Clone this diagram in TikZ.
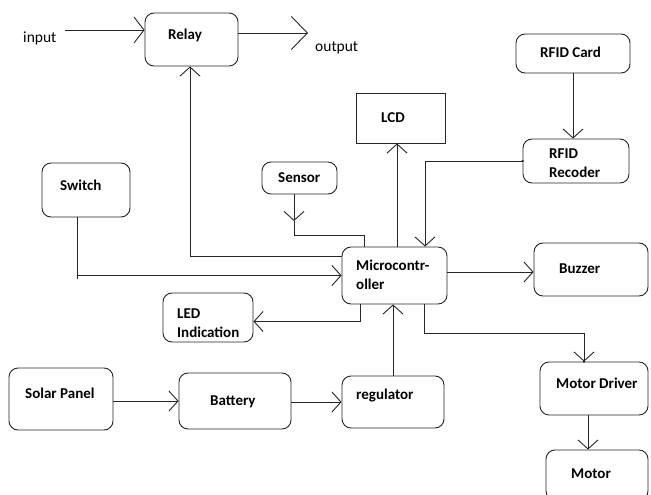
\documentclass[tikz,border=0pt]{standalone}
\usepackage{fontspec}
\setmainfont{Carlito}
\usetikzlibrary{arrows.meta}
\tikzset{
  rbox/.style={draw=black!85, line width=0.9pt, rounded corners=9pt, inner sep=0pt},
  sbox/.style={draw=black!85, line width=0.9pt, inner sep=0pt},
  lbl/.style={anchor=base west, inner sep=0pt, font=\fontsize{15}{19}\selectfont\bfseries, align=left},
  plain/.style={anchor=base west, inner sep=0pt, font=\fontsize{15.5}{19}\selectfont},
  conn/.style={draw=black!85, line width=0.9pt},
  arr/.style={conn, -{Straight Barb[length=9pt,width=20pt,line width=0.9pt]}},
  bigarr/.style={conn, -{Straight Barb[length=16pt,width=33pt,line width=0.9pt]}},
}
\begin{document}
\begin{tikzpicture}[x=1pt,y=-1pt]
\useasboundingbox (0,0) rectangle (651,495);
\clip (0,0) rectangle (651,495);
% boxes
\node[rbox, minimum width=93pt, minimum height=53pt] (relay) at (191.5,39.5) {};
\node[sbox, minimum width=89pt, minimum height=50pt] (lcd) at (400.5,118) {};
\node[rbox, minimum width=114pt, minimum height=39pt] (rfidcard) at (573,53.5) {};
\node[rbox, minimum width=106pt, minimum height=44pt] (rfidrec) at (576,161) {};
\node[rbox, minimum width=88pt, minimum height=54pt] (switch) at (86,190) {};
\node[rbox, minimum width=75pt, minimum height=32pt] (sensor) at (299.5,178) {};
\node[rbox, minimum width=105pt, minimum height=57pt] (micro) at (394.5,275.5) {};
\node[rbox, minimum width=114pt, minimum height=53pt] (buzzer) at (591,269.5) {};
\node[rbox, minimum width=90pt, minimum height=49pt] (led) at (208,317.5) {};
\node[rbox, minimum width=104pt, minimum height=62pt] (solar) at (61,399) {};
\node[rbox, minimum width=112pt, minimum height=56pt] (battery) at (235,401) {};
\node[rbox, minimum width=102pt, minimum height=52pt] (reg) at (393,402) {};
\node[rbox, minimum width=108pt, minimum height=53pt] (mdriver) at (594,388.5) {};
\node[rbox, minimum width=102pt, minimum height=50pt] (motor) at (597,475) {};
% labels
\node[lbl] (relayT) at (168,40) {Relay};
\node[lbl] (lcdT) at (381,122) {LCD};
\node[lbl] (rfidcardT) at (540,58) {RFID Card};
\node[lbl] (rfidrecT) at (549,177) {RFID\\Recoder};
\node[lbl] (switchT) at (60,190) {Switch};
\node[lbl] (sensorT) at (278,182) {Sensor};
\node[lbl] (microT) at (356,289) {Microcontr-\\oller};
\node[lbl] (buzzerT) at (559,273) {Buzzer};
\node[lbl] (ledT) at (177,337) {LED\\Indication};
\node[lbl] (solarT) at (25,398) {Solar Panel};
\node[lbl] (batteryT) at (210,405) {Battery};
\node[lbl] (regT) at (356,399) {regulator};
\node[lbl] (mdriverT) at (556,388) {Motor Driver};
\node[lbl] (motorT) at (571,478) {Motor};
\node[plain] (inputT) at (23,43) {input};
\node[plain] (outputT) at (315,52) {output};
% connectors
\coordinate (inp) at (65,30);
\coordinate (outp) at (308,33);
\draw[arr, -{Straight Barb[length=10pt,width=26pt,line width=0.9pt]}] (inp) -- (inp -| relay.west);
\draw[bigarr] (outp -| relay.east) -- (outp);
\draw[arr] ([yshift=19.5pt]micro.west) -| ([xshift=-1.5pt]relay.south);
\draw[arr] ([xshift=-9pt]switch.south) |- (micro.west);
\draw[conn] ([xshift=-9pt]switch.south |- micro.west) -- ++(0,3);
\coordinate (sarr) at (294,221);
\draw[arr] ([xshift=-5.5pt]sensor.south) -- (sarr);
\draw[conn] (sarr) -- (294,235) -| ([xshift=-30.5pt]micro.north);
\draw[arr] ([xshift=2.5pt]micro.north) -- ([xshift=-3.5pt]lcd.south);
\draw[arr] (rfidcard.south) -- (rfidcard.south |- rfidrec.north);
\fill[black!85] (rfidrec.west) circle (1.3pt);
\draw[arr] (rfidrec.west) -| ([xshift=30.5pt]micro.north);
\draw[arr] ([yshift=3.5pt]micro.east) -- ([yshift=3.5pt]micro.east -| buzzer.west);
\draw[arr] ([xshift=-34.5pt]micro.south) |- ([yshift=-4pt]led.east);
\fill[black!85] ([xshift=-10pt]mdriver.north) circle (1.3pt);
\draw[arr] ([xshift=29.5pt]micro.south) -- ++(0,29) -| ([xshift=-10pt]mdriver.north);
\draw[arr] (reg.north) -- (reg.north |- micro.south);
\draw[arr] (battery.west -| solar.east) -- (battery.west);
\draw[arr] (reg.west -| battery.east) -- (reg.west);
\draw[arr] ([xshift=-6pt]mdriver.south) -- ([xshift=-6pt]mdriver.south |- motor.north);
\end{tikzpicture}
\end{document}
